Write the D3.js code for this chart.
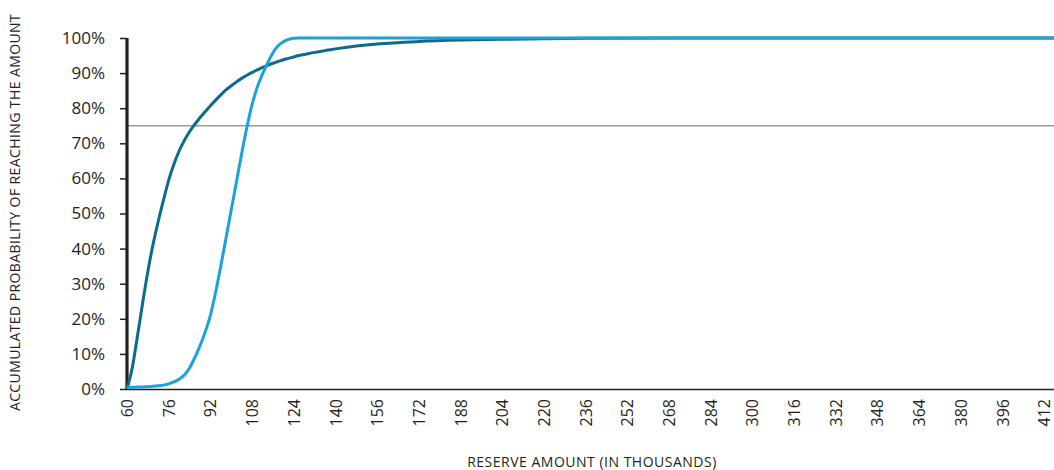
<!DOCTYPE html>
<html>
<head>
<meta charset="utf-8">
<script src="https://cdn.jsdelivr.net/npm/d3@7"></script>
<style>
  html, body { margin: 0; padding: 0; background: #fff; }
  svg { display: block; }
  text { font-family: "Open Sans", "DejaVu Sans", sans-serif; fill: #231f20; }
</style>
</head>
<body>
<svg id="chart" width="1054" height="470"></svg>
<script>
// ---- data ----
const reserve = [60, 62, 64, 66, 68, 70, 72, 74, 76, 78, 80, 82, 84, 86, 88, 90, 92, 94, 96, 98, 100,
  102, 104, 106, 108, 110, 112, 114, 116, 118, 120, 122, 124, 126, 128, 132, 136, 140, 148, 156, 172, 188,
  204, 220, 236, 268, 300, 348, 412, 416];
const scenarioA = [0, 6.0, 15, 24.5, 33.5, 41.2, 47.8, 53.8, 59.5, 64.0, 67.8, 70.8, 73.3, 75.4, 77.3, 79.0, 80.7, 82.3, 83.8, 85.2, 86.4,
  87.5, 88.5, 89.4, 90.2, 90.9, 91.6, 92.2, 92.8, 93.3, 93.8, 94.2, 94.6, 95.0, 95.3, 95.9, 96.4, 96.9, 97.7, 98.3, 99.0, 99.4,
  99.65, 99.8, 99.9, 100, 100, 100, 100, 100];
const scenarioB = [0.5, 0.5, 0.55, 0.6, 0.65, 0.75, 0.9, 1.1, 1.45, 2.0, 2.8, 4.0, 6.0, 8.9, 12.3, 16.2, 21, 27.5, 35, 43, 51,
  59, 67, 74.5, 81, 86, 89.7, 92.9, 95.8, 97.8, 98.9, 99.6, 99.9, 100, 100, 100, 100, 100, 100, 100, 100, 100,
  100, 100, 100, 100, 100, 100, 100, 100];
const xTicks = [60, 76, 92, 108, 124, 140, 156, 172, 188, 204, 220, 236, 252, 268, 284, 300, 316, 332, 348, 364, 380, 396, 412];
const yTicks = [0, 10, 20, 30, 40, 50, 60, 70, 80, 90, 100];
const threshold = 75;
const xTitle = "RESERVE AMOUNT (IN THOUSANDS)";
const yTitle = "ACCUMULATED PROBABILITY OF REACHING THE AMOUNT";

// ---- layout ----
const svg = d3.select("#chart");
const mLeft = 127, mRight = 1054, mTop = 38, mBottom = 389;
const x = d3.scaleLinear().domain([60, 415.8]).range([mLeft, mRight]);
const y = d3.scaleLinear().domain([0, 100]).range([mBottom, mTop]);

// threshold line
svg.append("line")
  .attr("x1", mLeft).attr("x2", mRight)
  .attr("y1", y(threshold)).attr("y2", y(threshold))
  .attr("stroke", "#9a9a9a").attr("stroke-width", 1.5);

// y axis
const yAxis = svg.append("g").attr("transform", `translate(${mLeft},0)`)
  .call(d3.axisLeft(y).tickValues(yTicks).tickSize(7).tickPadding(15).tickFormat(d => d + "%"));
yAxis.select(".domain").attr("stroke", "#231f20").attr("stroke-width", 3.2).attr("d", `M0,${mTop}V${mBottom + 1}`);
yAxis.selectAll(".tick line").attr("stroke", "#231f20").attr("stroke-width", 1.5);
yAxis.selectAll(".tick text").attr("font-size", 17).attr("font-family", "Open Sans, sans-serif").attr("fill", "#231f20");

// x axis
const xAxis = svg.append("g").attr("transform", `translate(0,${mBottom})`)
  .call(d3.axisBottom(x).tickValues(xTicks).tickSize(0).tickPadding(0));
xAxis.select(".domain").attr("stroke", "#231f20").attr("stroke-width", 1.6);
xAxis.selectAll(".tick text")
  .attr("font-size", 16).attr("font-family", "Open Sans, sans-serif").attr("fill", "#231f20")
  .attr("text-anchor", "end")
  .attr("transform", "translate(0,10) rotate(-90)")
  .attr("x", 0).attr("y", 0).attr("dy", "0.35em");

// lines
const line = (vals) => d3.line()
  .x((d, i) => x(reserve[i]))
  .y(d => y(d))
  .curve(d3.curveMonotoneX)(vals);

svg.append("path").attr("d", line(scenarioA))
  .attr("fill", "none").attr("stroke", "#0d6a8d").attr("stroke-width", 3);
svg.append("path").attr("d", line(scenarioB))
  .attr("fill", "none").attr("stroke", "#1aa2da").attr("stroke-width", 3);

// titles
svg.append("text")
  .attr("transform", `translate(20,${(15 + 410) / 2}) rotate(-90)`)
  .attr("text-anchor", "middle")
  .attr("font-size", 14)
  .attr("letter-spacing", 0.4)
  .text(yTitle);
svg.append("text")
  .attr("x", 592).attr("y", 467)
  .attr("text-anchor", "middle")
  .attr("font-size", 14)
  .attr("letter-spacing", 0.5)
  .text(xTitle);
</script>
</body>
</html>
